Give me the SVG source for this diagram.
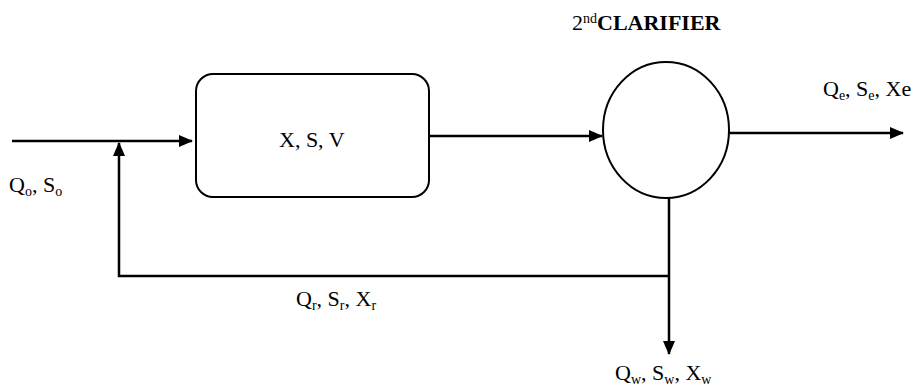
<svg xmlns="http://www.w3.org/2000/svg" width="919" height="388" viewBox="0 0 919 388">
<style>
.ln{stroke:#000;stroke-width:2.5;fill:none}
.sh{stroke:#000;stroke-width:2;fill:#fff}
text{font-size:22px;fill:#000}
.sub{font-size:14px}
.sup{font-size:14px}
.b{font-weight:bold}
</style>
<defs>
<marker id="ah" markerWidth="14" markerHeight="12" refX="13" refY="6" orient="auto" markerUnits="userSpaceOnUse">
<path d="M0,0 L14,6 L0,12 Z" fill="#000"/>
</marker>
</defs>
<g id="connectors">
<line class="ln" x1="12" y1="141" x2="192" y2="141" marker-end="url(#ah)"/>
<polyline class="ln" points="669,276 119,276 119,143" marker-end="url(#ah)"/>
<line class="ln" x1="429" y1="136" x2="602" y2="136" marker-end="url(#ah)"/>
<line class="ln" x1="729" y1="133" x2="903" y2="133" marker-end="url(#ah)"/>
<line class="ln" x1="669" y1="198" x2="669" y2="354" marker-end="url(#ah)"/>
</g>
<g font-family="Liberation Serif, Times New Roman, serif">
<g id="reactor">
<rect class="sh" x="196" y="74" width="233" height="123" rx="17" ry="17"/>
<text x="279" y="147">X, S, V</text>
</g>
<g id="clarifier">
<ellipse class="sh" cx="666" cy="130" rx="63" ry="68"/>
<text x="572" y="30">2<tspan class="sup" dy="-7">nd</tspan><tspan class="b" dy="7">CLARIFIER</tspan></text>
</g>
<g id="labels">
<text x="9" y="192">Q<tspan class="sub" dy="4">o</tspan><tspan dy="-4">, S</tspan><tspan class="sub" dy="4">o</tspan></text>
<text x="823" y="96">Q<tspan class="sub" dy="4">e</tspan><tspan dy="-4">, S</tspan><tspan class="sub" dy="4">e</tspan><tspan dy="-4">, Xe</tspan></text>
<text x="296" y="306">Q<tspan class="sub" dy="4">r</tspan><tspan dy="-4">, S</tspan><tspan class="sub" dy="4">r</tspan><tspan dy="-4">, X</tspan><tspan class="sub" dy="4">r</tspan></text>
<text x="615" y="380">Q<tspan class="sub" dy="4">w</tspan><tspan dy="-4">, S</tspan><tspan class="sub" dy="4">w</tspan><tspan dy="-4">, X</tspan><tspan class="sub" dy="4">w</tspan></text>
</g>
</g>
</svg>
